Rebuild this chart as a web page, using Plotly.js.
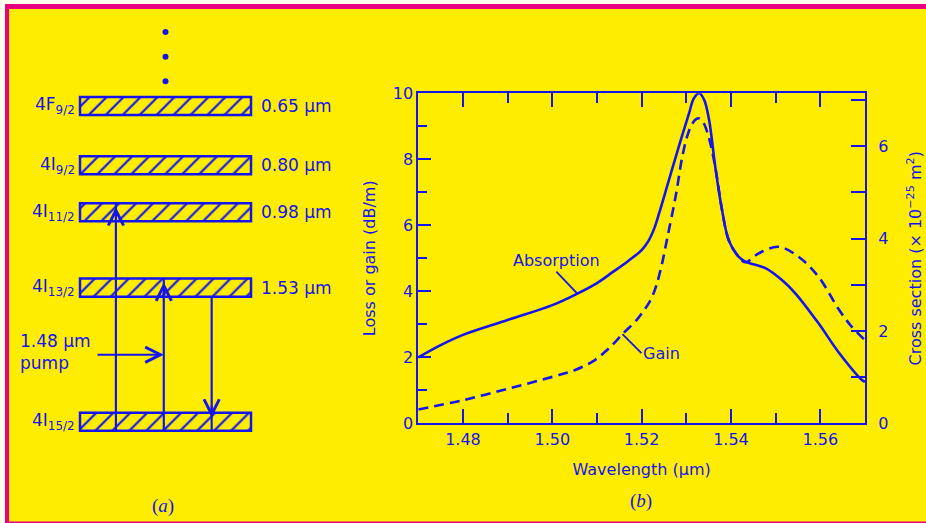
<!DOCTYPE html>
<html>
<head>
<meta charset="utf-8">
<script src="https://cdn.plot.ly/plotly-3.0.1.min.js"></script>
<style>
  html, body { margin: 0; padding: 0; background: #fffdeb; }
  #chart { width: 926px; height: 523px; }
</style>
</head>
<body>
<div id="chart"></div>
<script>
// ---- (b) loss and gain spectra of the Er-doped fibre (dB/m) ----
const absorptionWavelength = [1.470, 1.475, 1.480, 1.490, 1.500, 1.5056, 1.510, 1.5135, 1.5170, 1.5200,
  1.5215, 1.5228, 1.5239, 1.5261, 1.5283, 1.5306, 1.5317, 1.5329, 1.5340, 1.5351,
  1.5365, 1.5380, 1.5395, 1.5417, 1.5432, 1.5477, 1.5514, 1.5544, 1.5596, 1.5640,
  1.5692, 1.5700];
const absorptionLoss = [2.00, 2.37, 2.68, 3.13, 3.58, 3.93, 4.25, 4.58, 4.92, 5.25,
  5.52, 5.90, 6.36, 7.37, 8.38, 9.39, 9.85, 10.0, 9.80, 9.19,
  7.75, 6.46, 5.55, 5.05, 4.90, 4.70, 4.34, 3.94, 3.03, 2.17,
  1.33, 1.26];

const gainWavelength = [1.470, 1.480, 1.4904, 1.5001, 1.5050, 1.509, 1.5125, 1.5157, 1.5190, 1.5205,
  1.5215, 1.5224, 1.5233, 1.5245, 1.5258, 1.5276, 1.5291, 1.5302, 1.5312, 1.5322,
  1.5329, 1.5338, 1.5350, 1.5365, 1.5380, 1.5395, 1.5417, 1.5432, 1.5462, 1.5506,
  1.5551, 1.5596, 1.5640, 1.5670, 1.5700];
const gainValue = [0.42, 0.70, 1.06, 1.41, 1.61, 1.87, 2.25, 2.70, 3.15, 3.42,
  3.62, 3.85, 4.18, 4.80, 5.66, 6.87, 8.08, 8.70, 9.05, 9.22,
  9.24, 9.12, 8.68, 7.75, 6.46, 5.55, 5.05, 4.88, 5.15, 5.35,
  5.05, 4.44, 3.48, 2.93, 2.52];

const wavelengthTicks = [1.48, 1.50, 1.52, 1.54, 1.56];
const lossTicks = [0, 2, 4, 6, 8, 10];
const crossTicks = [0, 1, 2, 3, 4, 5, 6, 7];
const crossTickText = ['0', '', '2', '', '4', '', '6', ''];
const crossPerLoss = 0.7148;   // cross-section scale units per dB/m

// ---- (a) Er3+ energy levels (ground state first) ----
const levelTerms = ['4I<sub>15/2</sub>', '4I<sub>13/2</sub>', '4I<sub>11/2</sub>', '4I<sub>9/2</sub>', '4F<sub>9/2</sub>'];
const levelWavelength = [null, 1.53, 0.98, 0.80, 0.65];   // μm, measured from the ground state
const levelLabels = ['', '1.53 μm', '0.98 μm', '0.80 μm', '0.65 μm'];
const transitionFrom = [0, 0, 1];
const transitionTo = [2, 1, 0];
const transitionSlot = [0.21, 0.49, 0.77];   // where along the level bar each transition is drawn
const pumpTransition = 1;
const pumpLabel = '1.48 μm<br>pump';

// ---- look ----
const BLUE = '#1414f0';
const YELLOW = '#ffed00';
const MAGENTA = '#e8007f';
const FONT = 'DejaVu Sans, Liberation Sans, sans-serif';
const W = 926, H = 523;

// photon energy above ground (1/μm) sets the height of each level
const levelEnergy = levelWavelength.map(w => (w ? 1 / w : 0));
const levelThick = 0.0877;          // bar thickness in 1/μm
const barLeft = 80, barLen = 171;   // diagram x units
const barMid = barLeft + barLen / 2;
const dotGap = 0.12;

const traces = [];

// energy level bars, hatched
traces.push({
  type: 'bar', orientation: 'h', xaxis: 'x3', yaxis: 'y3',
  y: levelEnergy, x: levelEnergy.map(() => barLen), base: barLeft,
  width: levelThick,
  marker: {
    color: YELLOW,
    line: { color: BLUE, width: 2.5 },
    pattern: { shape: '/', fgcolor: BLUE, bgcolor: YELLOW, size: 12, solidity: 0.18, fillmode: 'replace' }
  },
  hoverinfo: 'skip', showlegend: false
});

// higher levels continue above
const topE = levelEnergy[levelEnergy.length - 1];
traces.push({
  type: 'scatter', mode: 'markers', xaxis: 'x3', yaxis: 'y3',
  x: [barMid, barMid, barMid], y: [1, 2, 3].map(k => topE + k * dotGap),
  marker: { color: BLUE, size: 6 }, hoverinfo: 'skip', showlegend: false
});

// transition lines
const tx = [], ty = [];
const annotations = [];
transitionFrom.forEach((f, i) => {
  const t = transitionTo[i];
  const x = barLeft + transitionSlot[i] * barLen;
  const up = levelEnergy[t] > levelEnergy[f];
  const yStart = levelEnergy[f] - levelThick / 2;
  const yEnd = up ? levelEnergy[t] + levelThick / 2 : levelEnergy[t] - levelThick / 2;
  tx.push(x, x, null); ty.push(yStart, yEnd, null);
  const tip = levelEnergy[t] + (up ? 0.3 : 0.22) * levelThick;
  annotations.push({
    xref: 'x3', yref: 'y3', x: x, y: tip, ax: 0, ay: up ? 14 : -14,
    text: '', showarrow: true, arrowhead: 5, arrowsize: 1.5, arrowwidth: 2, arrowcolor: BLUE
  });
});
traces.push({
  type: 'scatter', mode: 'lines', xaxis: 'x3', yaxis: 'y3', x: tx, y: ty,
  line: { color: BLUE, width: 2.2 }, hoverinfo: 'skip', showlegend: false
});

// pump arrow and label
const pumpX = barLeft + transitionSlot[pumpTransition] * barLen;
const pumpY = (levelEnergy[0] + levelEnergy[1]) / 2;
annotations.push({
  xref: 'x3', yref: 'y3', x: pumpX, y: pumpY, axref: 'x3', ayref: 'y3', ax: barLeft + 16, ay: pumpY,
  text: '', showarrow: true, arrowhead: 5, arrowsize: 1.5, arrowwidth: 2, arrowcolor: BLUE
});
annotations.push({
  xref: 'x3', yref: 'y3', x: 18, y: pumpY + 0.015, xanchor: 'left', yanchor: 'middle', align: 'left',
  text: pumpLabel, showarrow: false, font: { family: FONT, size: 17, color: BLUE }
});

// level names and wavelengths
levelTerms.forEach((name, i) => {
  annotations.push({
    xref: 'x3', yref: 'y3', x: barLeft - 3, y: levelEnergy[i], xanchor: 'right', yanchor: 'middle',
    text: name, showarrow: false, font: { family: FONT, size: 17, color: BLUE }
  });
  if (levelLabels[i]) {
    annotations.push({
      xref: 'x3', yref: 'y3', x: barLeft + barLen + 8, y: levelEnergy[i], xanchor: 'left', yanchor: 'middle',
      text: levelLabels[i], showarrow: false, font: { family: FONT, size: 17, color: BLUE }
    });
  }
});

// spectra
traces.push({
  type: 'scatter', mode: 'lines', x: absorptionWavelength, y: absorptionLoss, name: 'Absorption',
  line: { color: BLUE, width: 2.6, shape: 'spline', smoothing: 1 }, hoverinfo: 'skip', showlegend: false
});
traces.push({
  type: 'scatter', mode: 'lines', x: gainWavelength, y: gainValue, name: 'Gain',
  line: { color: BLUE, width: 2.6, dash: '10px,6px', shape: 'spline', smoothing: 1 }, hoverinfo: 'skip', showlegend: false
});
// the cross-section scale on the right shares the same plot area
traces.push({
  type: 'scatter', mode: 'lines', x: [], y: [], xaxis: 'x', yaxis: 'y2', hoverinfo: 'skip', showlegend: false
});

annotations.push({
  x: 1.5056, y: 3.93, xref: 'x', yref: 'y', text: 'Absorption', showarrow: true, arrowhead: 0,
  arrowwidth: 1.8, arrowcolor: BLUE, ax: -21, ay: -22, xanchor: 'center', yanchor: 'bottom',
  font: { family: FONT, size: 16, color: BLUE }
});
annotations.push({
  x: 1.5157, y: 2.70, xref: 'x', yref: 'y', text: 'Gain', showarrow: true, arrowhead: 0,
  arrowwidth: 1.8, arrowcolor: BLUE, ax: 19, ay: 19, xanchor: 'left', yanchor: 'middle',
  font: { family: FONT, size: 16, color: BLUE }
});

// panel tags
annotations.push({
  xref: 'paper', yref: 'paper', x: 163 / W, y: 1 - 505.5 / H, xanchor: 'center', yanchor: 'middle',
  text: '(<i>a</i>)', showarrow: false,
  font: { family: 'Liberation Serif, serif', size: 19, color: BLUE }
});
annotations.push({
  xref: 'paper', yref: 'paper', x: 640.5 / W, y: 1 - 500.5 / H, xanchor: 'center', yanchor: 'middle',
  text: '(<i>b</i>)', showarrow: false,
  font: { family: 'Liberation Serif, serif', size: 19, color: BLUE }
});

const tickFont = { family: FONT, size: 16, color: BLUE };

const layout = {
  width: W, height: H,
  margin: { l: 0, r: 0, t: 0, b: 0 },
  paper_bgcolor: '#fffdeb',
  plot_bgcolor: 'rgba(0,0,0,0)',
  showlegend: false,
  font: { family: FONT, color: BLUE },
  xaxis: {
    domain: [418.3 / W, 865 / W], anchor: 'y',
    range: [1.47, 1.57], tickvals: wavelengthTicks, ticktext: wavelengthTicks.map(v => v.toFixed(2)),
    ticks: 'inside', ticklen: 14, tickwidth: 2, tickcolor: BLUE,
    minor: { tickvals: [1.49, 1.51, 1.53, 1.55], ticks: 'inside', ticklen: 10, tickwidth: 2, tickcolor: BLUE },
    showline: true, linewidth: 2, linecolor: BLUE, mirror: 'ticks',
    showgrid: false, zeroline: false, tickfont: tickFont,
    title: { text: 'Wavelength (μm)', standoff: 16, font: { family: FONT, size: 16, color: BLUE } }
  },
  yaxis: {
    domain: [1 - 423.3 / H, 1 - 93.3 / H], anchor: 'x',
    range: [0, 10], tickvals: lossTicks,
    ticks: 'inside', ticklen: 13, tickwidth: 2, tickcolor: BLUE,
    minor: { tickvals: [1, 3, 5, 7, 9], ticks: 'inside', ticklen: 9, tickwidth: 2, tickcolor: BLUE },
    showline: true, linewidth: 2, linecolor: BLUE,
    showgrid: false, zeroline: false, tickfont: tickFont,
    title: { text: 'Loss or gain (dB/m)', font: { family: FONT, size: 16, color: BLUE } }
  },
  yaxis2: {
    overlaying: 'y', side: 'right', anchor: 'x',
    range: [0, 10 * crossPerLoss], tickvals: crossTicks, ticktext: crossTickText,
    ticks: 'inside', ticklen: 14, tickwidth: 2, tickcolor: BLUE, ticklabelstandoff: 8,
    showline: true, linewidth: 2, linecolor: BLUE,
    showgrid: false, zeroline: false, tickfont: tickFont,
    title: { text: 'Cross section (× 10<sup>−25</sup> m<sup>2</sup>)', standoff: 22,
             font: { family: FONT, size: 16, color: BLUE } }
  },
  xaxis3: { domain: [0, 352 / W], anchor: 'y3', range: [0, 352], visible: false, fixedrange: true },
  yaxis3: { domain: [0, 1], anchor: 'x3', range: [-0.4929, 2.0546], visible: false, fixedrange: true },
  shapes: [
    { type: 'rect', xref: 'paper', yref: 'paper', layer: 'below',
      x0: 5 / W, x1: 1.2, y0: -0.2, y1: 1 - 4 / H, fillcolor: MAGENTA, line: { width: 0 } },
    { type: 'rect', xref: 'paper', yref: 'paper', layer: 'below',
      x0: 9 / W, x1: 1.2, y0: 1 - 521.5 / H, y1: 1 - 9 / H, fillcolor: YELLOW, line: { width: 0 } }
  ],
  annotations: annotations
};

Plotly.newPlot('chart', traces, layout, { staticPlot: true, displayModeBar: false });
</script>
</body>
</html>
